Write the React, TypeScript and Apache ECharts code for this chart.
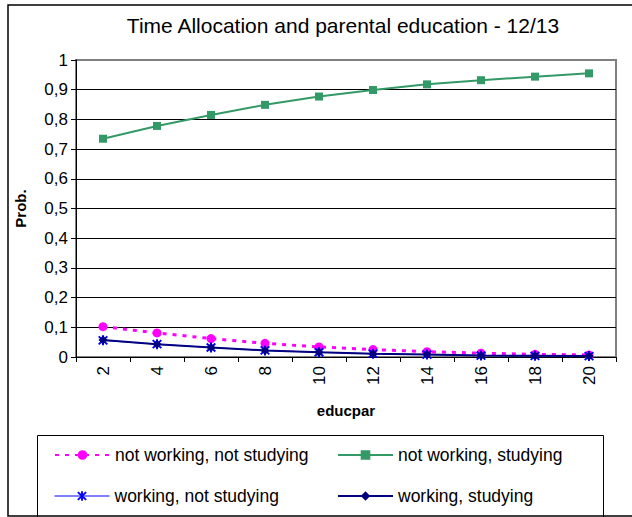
import React, { useEffect, useRef } from "react";
import * as echarts from "echarts";

const categories = ["2", "4", "6", "8", "10", "12", "14", "16", "18", "20"];
const notWorkingNotStudying = [0.102, 0.081, 0.062, 0.046, 0.034, 0.025, 0.018, 0.013, 0.009, 0.007];
const notWorkingStudying = [0.735, 0.778, 0.815, 0.849, 0.877, 0.899, 0.918, 0.932, 0.944, 0.955];
const workingNotStudying = [0.056, 0.043, 0.032, 0.022, 0.016, 0.011, 0.008, 0.005, 0.004, 0.003];
const workingStudying = [0.057, 0.043, 0.032, 0.022, 0.016, 0.011, 0.008, 0.005, 0.004, 0.003];

const FONT = "'Liberation Sans', Arial, sans-serif";
const ASTERISK =
  "path://M4.1,0 L5.9,0 L5.9,10 L4.1,10 Z M1.64,0.36 L9.64,8.36 L8.36,9.64 L0.36,1.64 Z M8.36,0.36 L9.64,1.64 L1.64,9.64 L0.36,8.36 Z";

const NAMES = [
  "not working, not studying",
  "not working, studying",
  "working, not studying",
  "working, studying",
];

export default function App() {
  const ref = useRef<HTMLDivElement>(null);
  useEffect(() => {
    if (!ref.current) return;
    const chart = echarts.init(ref.current, null, { renderer: "svg" });
    const legendBase = {
      orient: "horizontal" as const,
      itemWidth: 55,
      itemHeight: 12,
      textStyle: { fontSize: 17.5, fontFamily: FONT, color: "#000" },
      padding: 0,
    };
    chart.setOption({
      animation: false,
      backgroundColor: "#fff",
      title: {
        text: "Time Allocation and parental education - 12/13",
        left: 338,
        top: 10,
        textAlign: "center",
        textStyle: { fontSize: 21, fontWeight: "normal", fontFamily: FONT, color: "#000" },
      },
      grid: {
        left: 76,
        right: 16,
        top: 60,
        bottom: 160,
        show: true,
        borderColor: "#808080",
        borderWidth: 2,
      },
      xAxis: {
        type: "category",
        data: categories,
        boundaryGap: true,
        name: "educpar",
        nameLocation: "middle",
        nameGap: 46,
        nameTextStyle: { fontSize: 15, fontWeight: "bold", fontFamily: FONT, color: "#000" },
        axisLine: { lineStyle: { color: "#000", width: 1 } },
        axisTick: { show: true, alignWithLabel: false, length: 5, lineStyle: { color: "#000" } },
        axisLabel: { rotate: 90, fontSize: 17, fontFamily: FONT, color: "#000", margin: 9 },
        splitLine: { show: false },
      },
      yAxis: {
        type: "value",
        min: 0,
        max: 1,
        interval: 0.1,
        name: "Prob.",
        nameLocation: "middle",
        nameGap: 48,
        nameTextStyle: { fontSize: 15, fontWeight: "bold", fontFamily: FONT, color: "#000" },
        axisLine: { show: true, lineStyle: { color: "#000", width: 1 } },
        axisTick: { show: true, length: 5, lineStyle: { color: "#000" } },
        axisLabel: {
          fontSize: 17,
          fontFamily: FONT,
          color: "#000",
          margin: 8,
          formatter: (v: number) => String(Math.round(v * 10) / 10).replace(".", ","),
        },
        splitLine: { show: true, showMaxLine: false, lineStyle: { color: "#000", width: 1 } },
      },
      legend: [
        { ...legendBase, data: [NAMES[0]], left: 54, top: 446 },
        { ...legendBase, data: [NAMES[1]], left: 337, top: 446 },
        { ...legendBase, data: [NAMES[2]], left: 54, top: 487, lineStyle: { width: 1 } },
        { ...legendBase, data: [NAMES[3]], left: 337, top: 487 },
      ],
      graphic: [
        {
          type: "rect",
          shape: { x: 8, y: 5, width: 640, height: 511 },
          style: { fill: "none", stroke: "#000", lineWidth: 1.5 },
          z: 100,
        },
        {
          type: "rect",
          shape: { x: 37.5, y: 435.5, width: 566, height: 90 },
          style: { fill: "none", stroke: "#000", lineWidth: 1 },
          z: 100,
        },
      ],
      series: [
        {
          name: NAMES[0],
          type: "line",
          data: notWorkingNotStudying,
          symbol: "circle",
          symbolSize: 9,
          itemStyle: { color: "#FF00FF" },
          lineStyle: { color: "#FF00FF", width: 3, type: [4, 6] },
          z: 2,
        },
        {
          name: NAMES[1],
          type: "line",
          data: notWorkingStudying,
          symbol: "rect",
          symbolSize: 8,
          itemStyle: { color: "#339966" },
          lineStyle: { color: "#339966", width: 2 },
          z: 3,
        },
        {
          name: NAMES[2],
          type: "line",
          data: workingNotStudying,
          symbol: ASTERISK,
          symbolSize: 10,
          itemStyle: { color: "#0000FF" },
          lineStyle: { color: "#0000FF", width: 1 },
          z: 4,
        },
        {
          name: NAMES[3],
          type: "line",
          data: workingStudying,
          symbol: "diamond",
          symbolSize: 9,
          itemStyle: { color: "#000080" },
          lineStyle: { color: "#000080", width: 2 },
          z: 5,
        },
      ],
    });
    return () => chart.dispose();
  }, []);
  return (
    <div
      ref={ref}
      style={{ position: "absolute", left: 0, top: 0, width: 632, height: 517 }}
    />
  );
}
